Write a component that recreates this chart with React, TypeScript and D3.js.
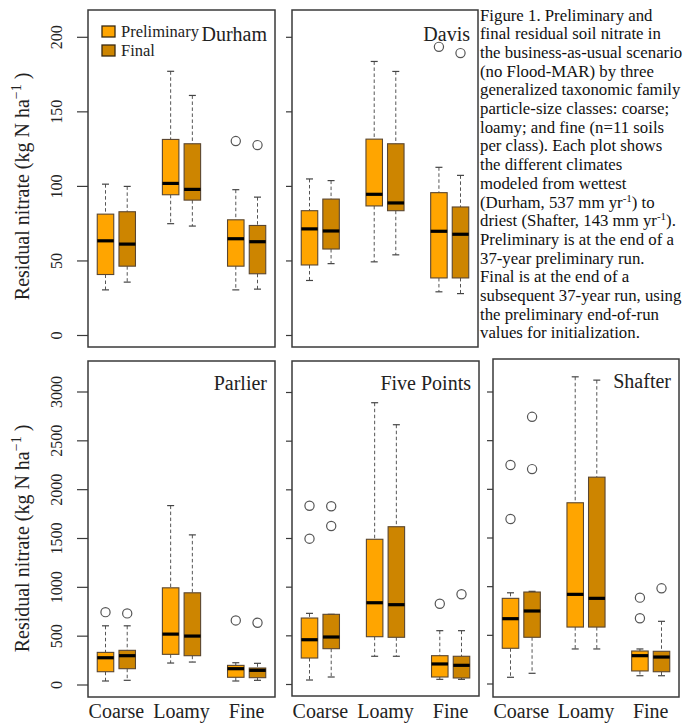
import React from "react";
import * as d3 from "d3";

// Soil particle-size classes and model runs
const categories = ["Coarse", "Loamy", "Fine"];
const seriesNames = ["Preliminary", "Final"];
const seriesColors = ["#FFA500", "#CD8500"];

// Box summaries per class: [lower whisker, Q1, median, Q3, upper whisker] (kg N/ha)
const durhamPrelim = [[30.6, 40.9, 63.5, 81.4, 101.5], [75, 94.4, 102, 131.5, 177.2], [30.6, 46.5, 64.9, 77.6, 97.8]];
const durhamFinal = [[35.8, 46.5, 61.3, 83, 100], [73.4, 90.8, 98, 128.6, 161], [31.1, 41.4, 62.9, 73.8, 92.8]];
const durhamPrelimOut = [[], [], [130.4]];
const durhamFinalOut = [[], [], [127.7]];

const davisPrelim = [[36.9, 47.3, 71.5, 83.7, 105], [49.4, 86.9, 94.7, 131.7, 183.8], [29.3, 38.6, 69.9, 95.8, 112.8]];
const davisFinal = [[48.2, 58, 70.1, 91.5, 103.9], [54.1, 83.7, 88.9, 128.6, 177.1], [28.1, 38.6, 67.9, 86.2, 107.4]];
const davisPrelimOut = [[], [], [193.6]];
const davisFinalOut = [[], [], [189.4]];

const parlierPrelim = [[41, 136, 279, 334, 606], [225, 314, 521, 995, 1837], [41, 79, 167, 201, 228]];
const parlierFinal = [[48, 167, 300, 355, 606], [235, 300, 501, 944, 1537], [48, 75, 150, 174, 222]];
const parlierPrelimOut = [[746], [], [661]];
const parlierFinalOut = [[733], [], [637]];

const fivePointsPrelim = [[46, 272, 460, 683, 731], [290, 491, 840, 1492, 2895], [53, 77, 211, 296, 553]];
const fivePointsFinal = [[77, 368, 488, 721, 721], [290, 485, 820, 1621, 2669], [53, 67, 197, 290, 553]];
const fivePointsPrelimOut = [[1837, 1498], [], [830]];
const fivePointsFinalOut = [[1831, 1628], [], [927]];

const shafterPrelim = [[69, 367, 671, 880, 937], [360, 585, 921, 1862, 3156], [85, 134, 291, 339, 360]];
const shafterFinal = [[110, 480, 750, 945, 952], [360, 585, 880, 2125, 3122], [85, 126, 277, 336, 644]];
const shafterPrelimOut = [[2250, 1695], [], [887, 675]];
const shafterFinalOut = [[2745, 2208], [], [983]];

// Axis ticks
const topTicks = [0, 50, 100, 150, 200];
const bottomTicks = [0, 500, 1000, 1500, 2000, 2500, 3000];

const captionLines = [
  "Figure 1. Preliminary and",
  "final residual soil nitrate in",
  "the business-as-usual scenario",
  "(no Flood-MAR) by three",
  "generalized taxonomic family",
  "particle-size classes: coarse;",
  "loamy; and fine (n=11 soils",
  "per class).  Each plot shows",
  "the different climates",
  "modeled from wettest",
  "(Durham, 537 mm yr^-1) to",
  "driest (Shafter, 143 mm yr^-1).",
  "Preliminary is at the end of a",
  "37-year preliminary run.",
  "Final is at the end of a",
  "subsequent 37-year run, using",
  "the preliminary end-of-run",
  "values for initialization.",
];

const FONT = "'Liberation Serif', 'Times New Roman', Times, serif";

type PanelSpec = {
  name: string;
  prelim: number[][];
  final: number[][];
  prelimOut: number[][];
  finalOut: number[][];
  left: number;
  top: number;
  right: number;
  bottom: number;
  domainMax: number;
  yRange: [number, number];
  ticks: number[];
  labelled: boolean;
  showCategories: boolean;
  legend: boolean;
};

const panels: PanelSpec[] = [
  { name: "Durham", prelim: durhamPrelim, final: durhamFinal, prelimOut: durhamPrelimOut, finalOut: durhamFinalOut,
    left: 88, top: 10, right: 275, bottom: 347, domainMax: 200, yRange: [335.5, 37.3], ticks: topTicks,
    labelled: true, showCategories: false, legend: true },
  { name: "Davis", prelim: davisPrelim, final: davisFinal, prelimOut: davisPrelimOut, finalOut: davisFinalOut,
    left: 292, top: 10, right: 478, bottom: 347, domainMax: 200, yRange: [335.5, 37.3], ticks: topTicks,
    labelled: false, showCategories: false, legend: false },
  { name: "Parlier", prelim: parlierPrelim, final: parlierFinal, prelimOut: parlierPrelimOut, finalOut: parlierFinalOut,
    left: 88, top: 361, right: 275, bottom: 697, domainMax: 3000, yRange: [685, 392], ticks: bottomTicks,
    labelled: true, showCategories: true, legend: false },
  { name: "Five Points", prelim: fivePointsPrelim, final: fivePointsFinal, prelimOut: fivePointsPrelimOut, finalOut: fivePointsFinalOut,
    left: 292, top: 361, right: 479, bottom: 696, domainMax: 3000, yRange: [684.5, 392.5], ticks: bottomTicks,
    labelled: false, showCategories: true, legend: false },
  { name: "Shafter", prelim: shafterPrelim, final: shafterFinal, prelimOut: shafterPrelimOut, finalOut: shafterFinalOut,
    left: 493, top: 359, right: 679, bottom: 697, domainMax: 3000, yRange: [684, 392], ticks: bottomTicks,
    labelled: false, showCategories: true, legend: false },
];

const BOX_W = 16.5;
const CAP_W = 7;

function Panel({ p }: { p: PanelSpec }) {
  const y = d3.scaleLinear().domain([0, p.domainMax]).range(p.yRange);
  const x = d3.scaleLinear().domain([1, 8]).range([p.left + 17.5, p.right - 17.5]);
  const frameColor = "#3a3a3a";
  const tickLen = p.labelled ? 11 : 6;

  const boxes: React.ReactNode[] = [];
  categories.forEach((cat, ci) => {
    [p.prelim, p.final].forEach((set, si) => {
      const s = set[ci];
      const outs = (si === 0 ? p.prelimOut : p.finalOut)[ci];
      const cx = x(ci * 3 + 1 + si);
      const [lo, q1, med, q3, hi] = s;
      boxes.push(
        <g key={`${cat}-${si}`}>
          <line x1={cx} x2={cx} y1={y(hi)} y2={y(q3)} stroke="#555" strokeWidth={1} strokeDasharray="3.5,2.5" />
          <line x1={cx} x2={cx} y1={y(q1)} y2={y(lo)} stroke="#555" strokeWidth={1} strokeDasharray="3.5,2.5" />
          <line x1={cx - CAP_W / 2} x2={cx + CAP_W / 2} y1={y(hi)} y2={y(hi)} stroke="#444" strokeWidth={1.2} />
          <line x1={cx - CAP_W / 2} x2={cx + CAP_W / 2} y1={y(lo)} y2={y(lo)} stroke="#444" strokeWidth={1.2} />
          <rect x={cx - BOX_W / 2} y={y(q3)} width={BOX_W} height={y(q1) - y(q3)}
            fill={seriesColors[si]} stroke="#5a4630" strokeWidth={1.1} />
          <line x1={cx - BOX_W / 2} x2={cx + BOX_W / 2} y1={y(med)} y2={y(med)} stroke="#000" strokeWidth={3.2} />
          {outs.map((o, oi) => (
            <circle key={oi} cx={cx} cy={y(o)} r={4.6} fill="none" stroke="#555" strokeWidth={1.2} />
          ))}
        </g>
      );
    });
  });

  const yMid = (p.yRange[0] + p.yRange[1]) / 2;

  return (
    <g>
      <rect x={p.left} y={p.top} width={p.right - p.left} height={p.bottom - p.top}
        fill="#fff" stroke={frameColor} strokeWidth={1.5} />
      {p.ticks.map((t) => (
        <g key={t}>
          <line x1={p.left - tickLen} x2={p.left} y1={y(t)} y2={y(t)} stroke={frameColor} strokeWidth={1.2} />
          {p.labelled && (
            <text transform={`translate(62,${y(t)}) rotate(-90)`} textAnchor="middle"
              fontFamily={FONT} fontSize={16} fill="#222">{t}</text>
          )}
        </g>
      ))}
      {p.labelled && (
        <text transform={`translate(29,${yMid}) rotate(-90)`} textAnchor="middle"
          fontFamily={FONT} fontSize={20} fill="#222">
          Residual nitrate (kg N ha
          <tspan dy={-8} fontSize={14}>−1</tspan>
          <tspan dy={8}> )</tspan>
        </text>
      )}
      {boxes}
      <text x={p.right - 8} y={p.top + (p.top < 100 ? 31 : 29)} textAnchor="end"
        fontFamily={FONT} fontSize={20} fill="#222">{p.name}</text>
      {p.showCategories && categories.map((c, ci) => (
        <text key={c} x={x(ci * 3 + 1.5)} y={718} textAnchor="middle"
          fontFamily={FONT} fontSize={20} fill="#222">{c}</text>
      ))}
      {p.legend && seriesNames.map((s, si) => (
        <g key={s}>
          <rect x={p.left + 14} y={p.top + 16 + si * 19} width={13} height={11}
            fill={seriesColors[si]} stroke="#3a2a10" strokeWidth={1.3} />
          <text x={p.left + 33} y={p.top + 27 + si * 19} fontFamily={FONT} fontSize={16.5} fill="#222">{s}</text>
        </g>
      ))}
    </g>
  );
}

function CaptionLine({ line, yPos }: { line: string; yPos: number }) {
  const parts = line.split("^-1");
  if (parts.length === 1) {
    return <text x={480} y={yPos} fontFamily={FONT} fontSize={16.8} fill="#111">{line}</text>;
  }
  return (
    <text x={480} y={yPos} fontFamily={FONT} fontSize={16.8} fill="#111">
      {parts[0]}
      <tspan dy={-6} fontSize={11}>-1</tspan>
      <tspan dy={6}>{parts[1]}</tspan>
    </text>
  );
}

export default function App() {
  return (
    <svg width={687} height={723} style={{ position: "absolute", left: 0, top: 0, background: "#fff" }}>
      <rect width={687} height={723} fill="#fff" />
      {panels.map((p) => (
        <Panel key={p.name} p={p} />
      ))}
      {captionLines.map((l, i) => (
        <CaptionLine key={i} line={l} yPos={20.5 + i * 18.7} />
      ))}
    </svg>
  );
}
